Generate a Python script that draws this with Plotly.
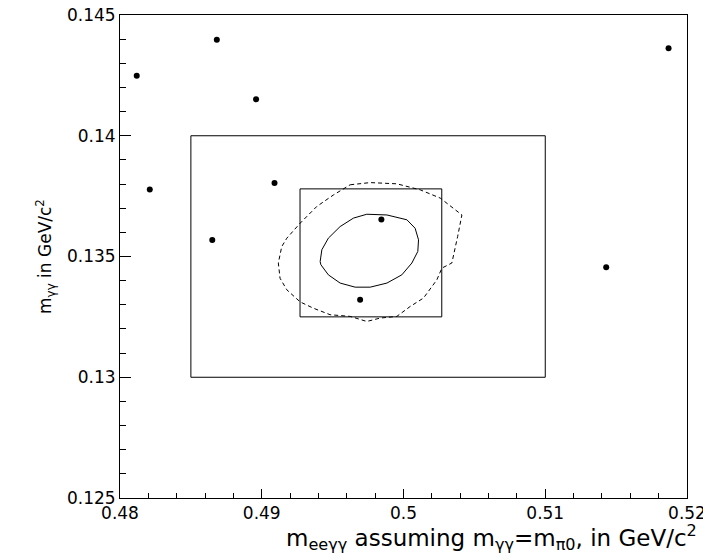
import plotly.graph_objects as go

# Candidate events (m_eegg, m_gg) in GeV/c^2
event_m_eegg = [0.48118, 0.48683, 0.48960, 0.48210, 0.48651, 0.49090, 0.49844, 0.49694, 0.51430, 0.51870]
event_m_gg = [0.14248, 0.14397, 0.14151, 0.13777, 0.13568, 0.13804, 0.13653, 0.13321, 0.13456, 0.14362]

# Boxes: [x_low, x_high, y_low, y_high]
outer_box = [0.485, 0.510, 0.130, 0.140]
inner_box = [0.4927, 0.5027, 0.1325, 0.1378]

# Inner (solid) contour
solid_x = [0.49412, 0.49424, 0.49470, 0.49553, 0.49647, 0.49741, 0.49883, 0.50024, 0.50082, 0.50106,
           0.50101, 0.50059, 0.49988, 0.49883, 0.49765, 0.49659, 0.49553, 0.49470, 0.49417]
solid_y = [0.13479, 0.13528, 0.13576, 0.13624, 0.13659, 0.13675, 0.13672, 0.13652, 0.13617, 0.13569,
           0.13521, 0.13473, 0.13424, 0.13390, 0.13373, 0.13373, 0.13390, 0.13424, 0.13466]

# Outer (dashed) contour
dashed_x = [0.49624, 0.49765, 0.49953, 0.50118, 0.50259, 0.50412, 0.50382, 0.50341, 0.50271, 0.50235,
            0.50141, 0.50047, 0.49953, 0.49835, 0.49741, 0.49624, 0.49482, 0.49364, 0.49271, 0.49177,
            0.49129, 0.49117, 0.49141, 0.49177, 0.49271, 0.49388, 0.49506]
dashed_y = [0.13797, 0.13806, 0.13801, 0.13776, 0.13742, 0.13672, 0.13583, 0.13473, 0.13452, 0.13403,
            0.13328, 0.13293, 0.13252, 0.13245, 0.13231, 0.13252, 0.13259, 0.13286, 0.13312, 0.13362,
            0.13410, 0.13473, 0.13541, 0.13576, 0.13638, 0.13707, 0.13755]

x_ticks = [0.48, 0.49, 0.50, 0.51, 0.52]
x_ticklabels = ["0.48", "0.49", "0.5", "0.51", "0.52"]
y_ticks = [0.125, 0.130, 0.135, 0.140, 0.145]
y_ticklabels = ["0.125", "0.13", "0.135", "0.14", "0.145"]


def box_path(b):
    return [b[0], b[1], b[1], b[0], b[0]], [b[2], b[2], b[3], b[3], b[2]]


fig = go.Figure()
for b in (outer_box, inner_box):
    bx, by = box_path(b)
    fig.add_trace(go.Scatter(x=bx, y=by, mode="lines", line=dict(color="black", width=1),
                             showlegend=False, hoverinfo="skip"))

fig.add_trace(go.Scatter(x=solid_x + solid_x[:1], y=solid_y + solid_y[:1], mode="lines",
                         line=dict(color="black", width=1), showlegend=False))
fig.add_trace(go.Scatter(x=dashed_x + dashed_x[:1], y=dashed_y + dashed_y[:1], mode="lines",
                         line=dict(color="black", width=1, dash="4px,3px"), showlegend=False))
fig.add_trace(go.Scatter(x=event_m_eegg, y=event_m_gg, mode="markers",
                         marker=dict(color="black", size=6), showlegend=False))

font_family = "DejaVu Sans"
axis_common = dict(showgrid=False, zeroline=False, showline=True, linecolor="black", linewidth=1,
                   mirror=True, ticks="inside", tickcolor="black", tickwidth=1, automargin=False,
                   ticklabeloverflow="allow",
                   tickfont=dict(family=font_family, size=17, color="black"))

# The page body adds an 8px offset, so the figure fills the remaining 703x552 area.
fig.update_layout(
    width=703, height=552,
    margin=dict(l=112, r=24, t=7, b=62),
    paper_bgcolor="white", plot_bgcolor="white",
    font=dict(family=font_family, color="black"),
    xaxis=dict(range=[0.48, 0.52], tickvals=x_ticks, ticktext=x_ticklabels, ticklen=9,
               minor=dict(dtick=0.002, ticks="inside", ticklen=5, tickcolor="black", showgrid=False),
               **axis_common),
    yaxis=dict(range=[0.125, 0.145], tickvals=y_ticks, ticktext=y_ticklabels, ticklen=11,
               minor=dict(dtick=0.001, ticks="inside", ticklen=6, tickcolor="black", showgrid=False),
               title=dict(text="m<sub>γγ</sub> in GeV/c<sup>2</sup>", font=dict(size=17, family=font_family),
                          standoff=10),
               **axis_common),
    annotations=[dict(text="m<sub>eeγγ</sub> assuming m<sub>γγ</sub>=m<sub>π0</sub>, in GeV/c<sup>2</sup>",
                      xref="paper", yref="paper", x=1, y=0, xanchor="right", yanchor="top",
                      xshift=12, yshift=-21, showarrow=False,
                      font=dict(size=23, family=font_family, color="black"))],
)

fig.write_html("out.html")
